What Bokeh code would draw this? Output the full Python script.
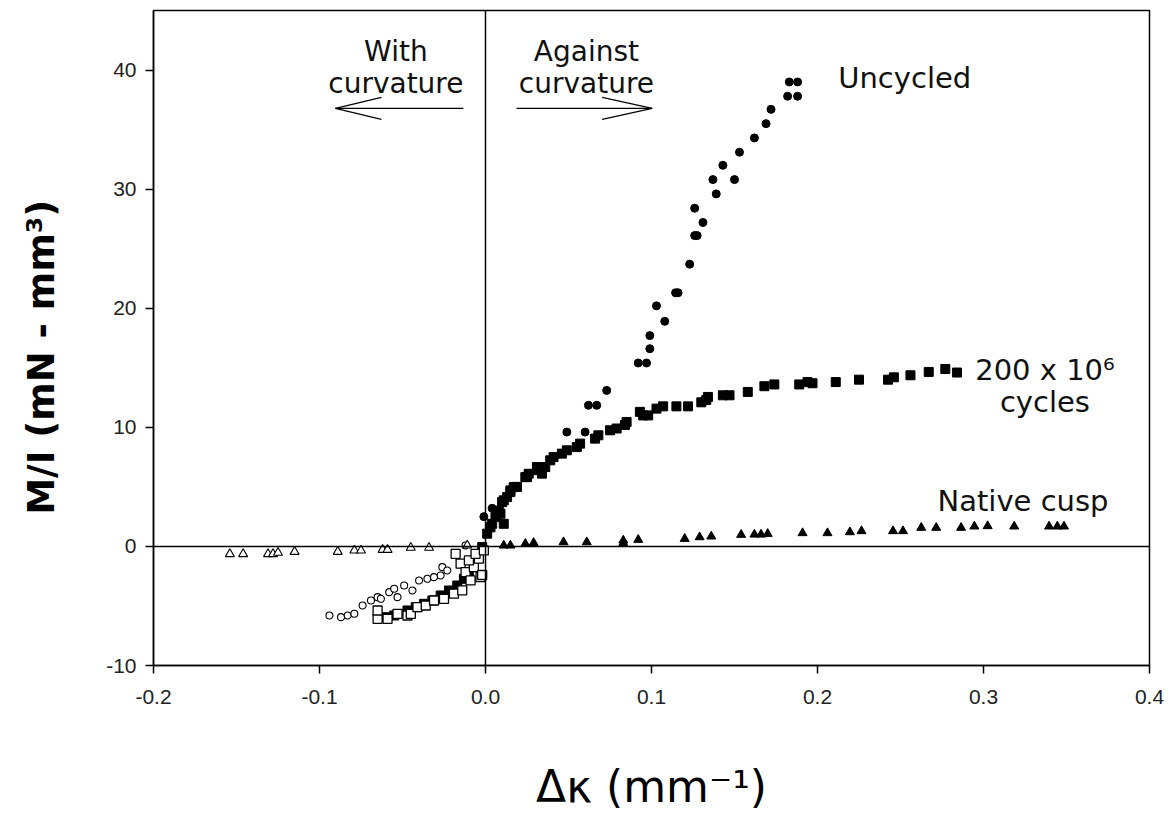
from bokeh.plotting import figure
from bokeh.models import Label, Span, FixedTicker, NumeralTickFormatter, Range1d
from bokeh.embed import file_html
from bokeh.resources import INLINE

# ---------------- data ----------------
uncycled_x = [-0.001, 0.004, 0.049, 0.060, 0.062, 0.067, 0.073, 0.092, 0.097, 0.099, 0.099,
              0.108, 0.103, 0.1145, 0.116, 0.123, 0.126, 0.1275, 0.131, 0.126, 0.139, 0.137,
              0.150, 0.143, 0.153, 0.162, 0.169, 0.172, 0.182, 0.188, 0.183, 0.188]
uncycled_y = [2.5, 3.2, 9.6, 9.6, 11.85, 11.85, 13.1, 15.4, 15.4, 16.6, 17.7,
              18.9, 20.2, 21.3, 21.3, 23.7, 26.1, 26.1, 27.2, 28.4, 29.6, 30.8,
              30.8, 32.0, 33.1, 34.3, 35.5, 36.7, 37.8, 37.8, 39.0, 39.0]

uncycled_neg_x = [-0.094, -0.087, -0.083, -0.079, -0.074, -0.069, -0.065, -0.063, -0.058, -0.055,
                  -0.053, -0.049, -0.044, -0.040, -0.035, -0.031, -0.027, -0.026, -0.023, -0.012]
uncycled_neg_y = [-5.8, -5.94, -5.8, -5.66, -4.96, -4.54, -4.26, -4.4, -3.84, -3.56,
                  -4.26, -3.28, -3.7, -2.86, -2.72, -2.58, -2.44, -1.74, -2.02, 0.08]

cycled_x = [0.001, 0.003, 0.004, 0.006, 0.007, 0.009, 0.008, 0.010, 0.011, 0.011, 0.013, 0.015,
            0.015, 0.017, 0.019, 0.024, 0.025, 0.026, 0.031, 0.031, 0.034, 0.036, 0.039, 0.041,
            0.046, 0.049, 0.055, 0.057, 0.066, 0.068, 0.075, 0.079, 0.084, 0.085, 0.093, 0.095,
            0.098, 0.103, 0.107, 0.115, 0.122, 0.130, 0.134, 0.133, 0.143, 0.147, 0.158, 0.168,
            0.174, 0.189, 0.194, 0.197, 0.211, 0.225, 0.2425, 0.246, 0.256, 0.267, 0.277, 0.284,
            -0.061, -0.055, -0.047, -0.042, -0.037, -0.032, -0.027, -0.022, -0.017, -0.013,
            -0.010, -0.007, -0.005, -0.002]
cycled_y = [1.07, 1.6, 1.9, 2.46, 2.75, 2.75, 3.0, 3.72, 1.9, 3.87, 4.14, 4.56,
            4.7, 4.98, 5.0, 5.82, 5.82, 6.1, 6.4, 6.66, 6.11, 6.66, 7.23, 7.5,
            7.79, 8.07, 8.34, 8.63, 9.05, 9.33, 9.75, 9.9, 10.2, 10.45, 11.3, 11.0,
            11.0, 11.57, 11.76, 11.76, 11.76, 12.1, 12.55, 12.3, 12.69, 12.69, 12.97, 13.45,
            13.6, 13.6, 13.8, 13.7, 13.8, 14.0, 14.0, 14.2, 14.37, 14.65, 14.9, 14.6,
            -5.94, -5.8, -5.38, -5.1, -4.82, -4.54, -4.12, -3.7, -3.28, -2.72,
            -2.16, -1.45, -0.76, -0.06]

cycled_neg_x = [-0.065, -0.059, -0.065, -0.053, -0.047, -0.045, -0.041, -0.036, -0.031, -0.025,
                -0.019, -0.014, -0.018, -0.015, -0.012, -0.009, -0.003, -0.007, -0.010, -0.004,
                -0.006, -0.001, -0.002]
cycled_neg_y = [-6.08, -6.08, -5.38, -5.66, -5.8, -5.66, -5.1, -4.96, -4.54, -4.4,
                -3.97, -3.7, -0.62, -1.45, -2.16, -2.86, -2.58, -1.74, -1.18, -1.03,
                -0.62, -0.34, -2.4]

native_x = [0.011, 0.015, 0.024, 0.029, 0.047, 0.061, 0.083, 0.083, 0.092, 0.120, 0.129, 0.136,
            0.154, 0.162, 0.166, 0.170, 0.191, 0.206, 0.2195, 0.2265, 0.2455, 0.2515, 0.2625,
            0.2715, 0.2865, 0.2945, 0.3025, 0.3185, 0.3395, 0.3445, 0.3485]
native_y = [0.08, 0.08, 0.22, 0.3, 0.36, 0.36, 0.5, 0.28, 0.56, 0.64, 0.78, 0.84,
            0.98, 1.0, 1.0, 1.06, 1.12, 1.12, 1.2, 1.29, 1.29, 1.29, 1.57,
            1.57, 1.57, 1.68, 1.71, 1.68, 1.68, 1.68, 1.68]

native_neg_x = [-0.154, -0.146, -0.131, -0.128, -0.125, -0.115, -0.089, -0.079, -0.075,
                -0.062, -0.059, -0.045, -0.034, -0.011]
native_neg_y = [-0.64, -0.64, -0.64, -0.64, -0.53, -0.45, -0.45, -0.34, -0.34,
                -0.28, -0.28, -0.11, -0.11, 0.08]

x_ticks = [-0.2, -0.1, 0.0, 0.1, 0.2, 0.3, 0.4]
y_ticks = [-10, 0, 10, 20, 30, 40]
y_tick_labels = {-10: "-10", 0: "0", 10: "10", 20: "20", 30: "30", 40: "40"}

# ---------------- figure ----------------
p = figure(frame_width=996, frame_height=655,
           x_range=Range1d(-0.2, 0.4), y_range=Range1d(-10, 45),
           output_backend="svg", toolbar_location=None,
           min_border_left=153, min_border_right=20, min_border_top=10, min_border_bottom=150,
           background_fill_color="white", border_fill_color="white")
p.grid.visible = False
p.outline_line_color = "black"
p.outline_line_width = 1.5

for ax in (p.xaxis[0], p.yaxis[0]):
    ax.axis_line_color = "black"
    ax.axis_line_width = 1.5
    ax.major_tick_line_color = "black"
    ax.major_tick_line_width = 1.5
    ax.major_tick_out = 8
    ax.major_tick_in = 0
    ax.minor_tick_line_color = None
    ax.major_label_text_font = "Liberation Sans"
    ax.major_label_text_font_size = "21px"
    ax.major_label_text_color = "#222222"
    ax.axis_label_text_color = "black"
    ax.axis_label_text_font = "DejaVu Sans"

p.xaxis[0].ticker = FixedTicker(ticks=x_ticks)
p.xaxis[0].formatter = NumeralTickFormatter(format="0.0")
p.xaxis[0].major_label_standoff = 16
p.xaxis[0].axis_label = "\u0394\u03ba (mm\u207b\u00b9)"
p.xaxis[0].axis_label_text_font_size = "44px"
p.xaxis[0].axis_label_text_font_style = "normal"
p.xaxis[0].axis_label_standoff = 54

p.yaxis[0].ticker = FixedTicker(ticks=y_ticks)
p.yaxis[0].major_label_overrides = y_tick_labels
p.yaxis[0].major_label_standoff = 9
p.yaxis[0].axis_label = "M/I (mN - mm\u00b3)\u00a0\u00a0\u00a0"
p.yaxis[0].axis_label_text_font_size = "37px"
p.yaxis[0].axis_label_text_font_style = "bold"
p.yaxis[0].axis_label_standoff = 40

# reference lines
p.add_layout(Span(location=0, dimension="width", line_color="black", line_width=1.5))
p.add_layout(Span(location=0, dimension="height", line_color="black", line_width=1.5))

# ---------------- data marks ----------------
p.scatter(cycled_x, cycled_y, marker="square", size=9, fill_color="black", line_color="black")
p.scatter(cycled_neg_x, cycled_neg_y, marker="square", size=9, fill_color="white",
          line_color="black", line_width=1.3)
p.scatter(uncycled_neg_x, uncycled_neg_y, marker="circle", size=7, fill_color="white",
          line_color="black", line_width=1.1)
p.scatter(native_neg_x, native_neg_y, marker="triangle", size=9, fill_color="white",
          line_color="black", line_width=1.1)
p.scatter(native_x, native_y, marker="triangle", size=9, fill_color="black", line_color="black")
p.scatter(uncycled_x, uncycled_y, marker="circle", size=8, fill_color="black", line_color="black")

# ---------------- arrows (annotation) ----------------
ARROW_Y = 36.78
ARROW_HW = 0.92
left_arrow = dict(tail=-0.0133, tip=-0.0904, back=-0.0627)
right_arrow = dict(tail=0.0187, tip=0.1004, back=0.0703)
for a in (left_arrow, right_arrow):
    p.segment(x0=[a["tail"], a["tip"], a["tip"]], y0=[ARROW_Y] * 3,
              x1=[a["tip"], a["back"], a["back"]],
              y1=[ARROW_Y, ARROW_Y + ARROW_HW, ARROW_Y - ARROW_HW],
              line_color="black", line_width=1.2)

# ---------------- text ----------------
SANS = "DejaVu Sans"
def lab(x, y, t, size="28px", align="left", font=SANS, style="normal",
        baseline="alphabetic", color="#111111"):
    p.add_layout(Label(x=x, y=y, text=t, text_font=font, text_font_size=size,
                       text_align=align, text_baseline=baseline, text_font_style=style,
                       text_color=color))

lab(-0.0540, 41.55, "With", align="center")
lab(-0.0540, 38.9, "curvature", align="center")
lab(0.0608, 41.55, "Against", align="center")
lab(0.0608, 38.9, "curvature", align="center")
lab(0.2125, 39.3, "Uncycled", size="29px")
lab(0.3370, 14.8, "200 x 10\u2076", size="29px", align="center")
lab(0.3370, 12.1, "cycles", size="29px", align="center")
lab(0.2723, 3.78, "Native cusp", size="29px")

open("out.html", "w").write(file_html(p, INLINE))
